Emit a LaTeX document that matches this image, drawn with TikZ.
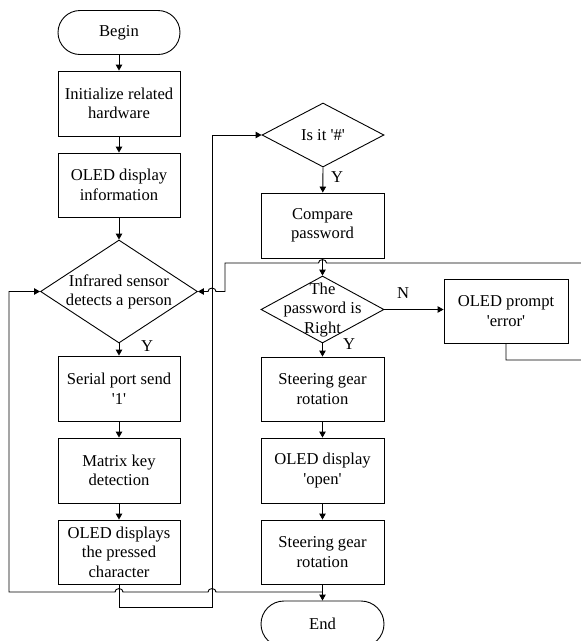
\documentclass[tikz,border=0pt]{standalone}
\usepackage{fontspec}
\setmainfont{Liberation Serif}
\usetikzlibrary{arrows.meta,shapes.geometric}
\newcommand{\sq}{\textquotesingle}
\begin{document}
\begin{tikzpicture}[x=1pt,y=-1pt,
  every node/.style={font=\fontsize{16.6}{19.5}\selectfont},
  line/.style={draw=black, line width=0.9pt},
  arr/.style={line, -{Triangle[length=6pt,width=6.5pt]}},
  proc/.style={draw, line width=0.9pt, rectangle, minimum width=122pt, minimum height=65pt, align=center, inner sep=0pt},
  term/.style={draw, line width=0.9pt, rectangle, rounded corners=22pt, minimum width=122pt, minimum height=44pt, inner sep=0pt},
  dia/.style={draw, line width=0.9pt, diamond, inner sep=0pt},
  lbl/.style={inner sep=0pt}
]
\clip (0,0) rectangle (581,641);
\useasboundingbox (0,0) rectangle (581,641);

% left column
\node[term] (begin) at (119,32.5) {Begin};
\node[proc] (init) at (119,103.5) {Initialize related\\hardware};
\node[proc, minimum height=64pt] (info) at (119,185) {OLED display\\information};
\node[dia, minimum width=157pt, minimum height=103pt] (ir) at (119,291.5) {};
\node[align=center, inner sep=0pt] (irt) at (119,292) {Infrared sensor\\detects a person};
\node[proc] (serial) at (119,388.5) {Serial port send\\\sq1\sq};
\node[proc] (matrix) at (119,470.5) {Matrix key\\detection};
\node[proc, minimum height=64pt] (pressed) at (119,552) {OLED displays\\the pressed\\character};

% right column
\node[dia, minimum width=122pt, minimum height=64pt] (isit) at (323,135) {};
\node[inner sep=0pt] (isitt) at (isit) {Is it \sq\#\sq};
\node[proc, minimum width=123pt] (compare) at (322.5,225.5) {Compare\\password};
\node[dia, minimum width=123pt, minimum height=67pt] (pwd) at (322.5,309.5) {};
\node[align=center, inner sep=0pt] (pwdt) at (322.5,310) {The\\password is\\Right};
\node[proc, minimum width=124pt, minimum height=64pt] (err) at (506,311) {OLED prompt\\\sq error\sq};
\node[proc, minimum width=123pt, minimum height=64pt] (steer1) at (322.5,389) {Steering gear\\rotation};
\node[proc, minimum width=123pt] (open) at (322.5,470.5) {OLED display\\\sq open\sq};
\node[proc, minimum width=123pt, minimum height=64pt] (steer2) at (322.5,552) {Steering gear\\rotation};
\node[term, minimum width=123pt, minimum height=46pt, rounded corners=23pt] (end) at (322.5,624) {End};

% labels
\node[lbl] (y1) at (147,346) {Y};
\node[lbl] (y2) at (337,177) {Y};
\node[lbl] (y3) at (349,344) {Y};
\node[lbl] (n1) at (403,293) {N};

% helper coordinates
\coordinate (pb) at (119,607);
\coordinate (rb) at (212,607);
\coordinate (rt) at (212,135);
\coordinate (eb) at (506,360);
\coordinate (ebr) at (600,360);
\coordinate (etr) at (600,263);
\coordinate (tl) at (225,263);
\coordinate (tld) at (225,291.5);
\coordinate (jn) at (322.5,592);
\coordinate (lb) at (9,592);
\coordinate (lt) at (9,291.5);

% straight connectors
\draw[arr] (begin) -- (init);
\draw[arr] (init) -- (info);
\draw[arr] (info) -- (ir.north);
\draw[arr] (ir.south) -- (serial);
\draw[arr] (serial) -- (matrix);
\draw[arr] (matrix) -- (pressed);
\draw[arr] (isit.south) -- (compare);
\draw[arr] (compare) -- (pwd.north);
\draw[arr] (pwd.east) -- (pwd.east -| err.west);
\draw[arr] (pwd.south) -- (steer1);
\draw[arr] (steer1) -- (open);
\draw[arr] (open) -- (steer2);
\draw[arr] (steer2) -- (end);

% loop from pressed to "Is it #"
\draw[arr] (pressed.south) -- (pb) -- (rb) -- (rt) -- (isit.west);

% error back to infrared sensor
\draw[arr] (err.south) -- (eb) -- (ebr) -- (etr) -- (326.5,263)
  .. controls (326.5,258.5) and (318.5,258.5) .. (318.5,263) -- (tl) -- (tld)
  -- (216,291.5) .. controls (216,287) and (208,287) .. (208,291.5) -- (ir.east);

% bottom loop back to infrared sensor
\draw[arr] (jn) -- (216,592) .. controls (216,587.5) and (208,587.5) .. (208,592)
  -- (123,592) .. controls (123,587.5) and (115,587.5) .. (115,592)
  -- (lb) -- (lt) -- (ir.west);
\end{tikzpicture}
\end{document}
